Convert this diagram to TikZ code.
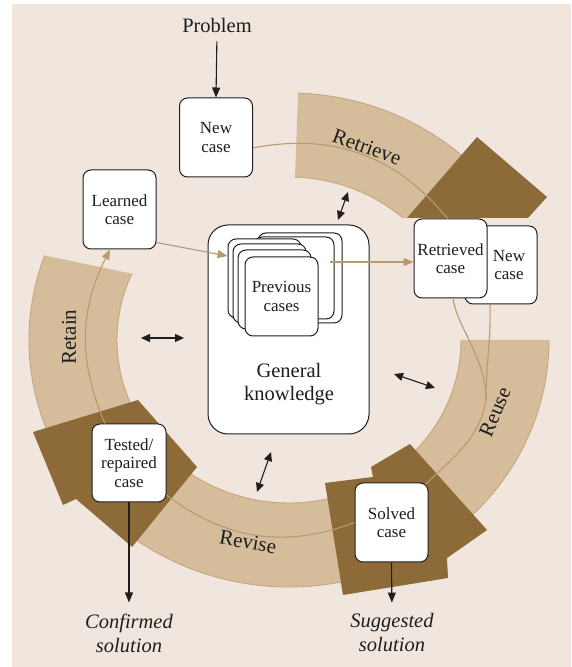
\documentclass[tikz,border=0pt]{standalone}
\usepackage{fontspec}
\setmainfont{Liberation Serif}
\usetikzlibrary{arrows.meta}

\definecolor{paper}{HTML}{F1E6DD}
\definecolor{bandfill}{HTML}{D5BC9B}
\definecolor{bandline}{HTML}{C6A67C}
\definecolor{darkbrown}{HTML}{8D6B38}
\definecolor{flowline}{HTML}{B99A6E}
\definecolor{ink}{HTML}{1E1E1E}

\tikzset{
  casebox/.style={draw=ink, line width=1pt, fill=white, rounded corners=8pt,
    minimum width=73pt, minimum height=79pt, inner sep=0pt, align=center,
    font=\fontsize{17}{18.5}\selectfont, text=ink},
  boxtext/.style={inner sep=0pt, align=center, font=\fontsize{17}{18.5}\selectfont, text=ink},
  card/.style={draw=ink, line width=1pt, fill=white, rounded corners=8pt,
    minimum width=73pt, minimum height=79pt, inner sep=0pt},
  bigtext/.style={font=\fontsize{20.5}{23}\selectfont, text=ink, align=center, inner sep=0pt},
  outtext/.style={font=\fontsize{20.5}{24}\selectfont\itshape, text=ink, align=center, inner sep=0pt},
  steplabel/.style={font=\fontsize{21}{21}\selectfont, text=ink, inner sep=0pt},
  flow/.style={draw=flowline, line width=1.1pt},
  flowarrow/.style={flow, -{Triangle[length=10pt,width=8pt]}},
  blackarrow/.style={draw=ink, line width=1.1pt, -{Triangle[length=10pt,width=8pt]}},
  twoway/.style={draw=ink, line width=1.1pt,
    {Triangle[length=9pt,width=8pt]}-{Triangle[length=9pt,width=8pt]}},
  bandedge/.style={draw=bandline, line width=0.9pt},
}

\begin{document}
\begin{tikzpicture}[x=1pt, y=1pt]
\useasboundingbox (0,0) rectangle (571,667);
\fill[paper] (12,0) rectangle (571,663);

% ---- the four bands of the cycle (ellipse centred at 289,327)
\begin{scope}[shift={(289,327)}]
  % Retrieve
  \begin{scope}
    \clip (-300,122) rectangle (300,340);
    \fill[bandfill] (88:260 and 247) arc[start angle=88, end angle=40, x radius=260, y radius=247]
      -- (40:172 and 163) arc[start angle=40, end angle=88, x radius=172, y radius=163] -- cycle;
    \draw[bandedge] (88:260 and 247) arc[start angle=88, end angle=40, x radius=260, y radius=247];
    \draw[bandedge] (88:172 and 163) arc[start angle=88, end angle=40, x radius=172, y radius=163];
  \end{scope}
  % Reuse
  \fill[bandfill] (0:260 and 247) arc[start angle=0, end angle=-50, x radius=260, y radius=247]
    -- (-50:172 and 163) arc[start angle=-50, end angle=0, x radius=172, y radius=163] -- cycle;
  \draw[bandedge] (0:260 and 247) arc[start angle=0, end angle=-50, x radius=260, y radius=247];
  \draw[bandedge] (0:172 and 163) arc[start angle=0, end angle=-50, x radius=172, y radius=163];
  % Revise
  \fill[bandfill] (-75:260 and 247) arc[start angle=-75, end angle=-138, x radius=260, y radius=247]
    -- (-138:172 and 163) arc[start angle=-138, end angle=-75, x radius=172, y radius=163] -- cycle;
  \draw[bandedge] (-75:260 and 247) arc[start angle=-75, end angle=-138, x radius=260, y radius=247];
  \draw[bandedge] (-75:172 and 163) arc[start angle=-75, end angle=-138, x radius=172, y radius=163];
  % Retain
  \fill[bandfill] (160:260 and 247) arc[start angle=160, end angle=205, x radius=260, y radius=247]
    -- (205:172 and 163) arc[start angle=205, end angle=156, x radius=172, y radius=163] -- cycle;
  \draw[bandedge] (160:260 and 247) arc[start angle=160, end angle=205, x radius=260, y radius=247];
  \draw[bandedge] (156:172 and 163) arc[start angle=156, end angle=205, x radius=172, y radius=163];
\end{scope}

% ---- dark arrow heads at the end of each band
\fill[darkbrown] (407,449) -- (477,530) -- (547,470) -- (528,449) -- cycle;
\fill[darkbrown] (410,223) -- (487,137) -- (447,109) -- (448,89) -- (343,72)
  -- (325,184) -- (373,190) -- (371,200) -- cycle;
\fill[darkbrown] (33,235) -- (138,267) -- (197,200) -- (132,120) -- (76,168) -- (63,162) -- cycle;

% ---- band labels, turned with the ring
\node[steplabel, rotate=-20] (lblretrieve) at (367,520) {Retrieve};
\node[steplabel, rotate=67] (lblreuse) at (495,255) {Reuse};
\node[steplabel, rotate=-10] (lblrevise) at (248,125) {Revise};
\node[steplabel, rotate=90] (lblretain) at (69,330) {Retain};

% ---- knowledge base with the stack of previous cases
\node[draw=ink, line width=1pt, fill=white, rounded corners=20pt,
  minimum width=161pt, minimum height=209pt] (gk) at (288.5,337.5) {};
\node[card, minimum width=84pt, minimum height=90pt] (backA) at (300,389) {};
\node[card, minimum width=80pt, minimum height=82pt] (backB) at (294,389) {};
\node[card] (cardA) at (264.5,388.5) {};
\node[card] (cardB) at (269.5,383.5) {};
\node[card] (cardC) at (274.5,377.5) {};
\node[card, align=center, font=\fontsize{17}{18.5}\selectfont, text=ink] (prev) at (281.5,370.5) {Previous\\cases};
\node[bigtext] (gktext) at (289,283.2) {General\\knowledge};

% ---- case boxes
\node[casebox] (newcase) at (216,529.5) {New\\case};
\node[casebox] (learned) at (119.5,457.5) {Learned\\case};
\node[casebox, minimum width=72pt, minimum height=78pt] (newcaseb) at (501,402) {};
\node[boxtext] (newcasebtext) at (509,402) {New\\case};
\node[casebox] (retrieved) at (450.5,408.5) {Retrieved\\case};
\node[casebox] (solved) at (391.5,144.5) {Solved\\case};
\node[casebox, minimum width=74pt, minimum height=78pt] (tested) at (129,204) {Tested/\\repaired\\case};

% ---- inputs and outputs
\node[bigtext] (problem) at (217,642) {Problem};
\node[outtext] (confirmed) at (129,34) {Confirmed\\solution};
\node[outtext] (suggested) at (392,34) {Suggested\\solution};

% ---- flow of the cycle
\coordinate (merge) at (486,267);
\draw[flow] ([yshift=-10.5]newcase.east) to[bend left=31] ([xshift=-3]retrieved.north);
\draw[flow] ([xshift=2.5]retrieved.south) .. controls +(4,-29) and +(0,43) .. (merge);
\draw[flow] ([xshift=-11]newcaseb.south) .. controls +(1,-40) and +(0,40) .. (merge);
\draw[flow] (merge) to[out=-100, in=45] ([xshift=-3,yshift=-2]solved.north east);
\draw[flow] (solved.west) to[bend left=29] ([yshift=-32]tested.east);
\draw[flowarrow] ([xshift=-24]tested.north) to[bend left=25] ([xshift=-9.5]learned.south);
\draw[flowarrow] ([yshift=-33]learned.east) -- ([yshift=22.5]cardA.west);
\draw[flowarrow] ([xshift=30,yshift=16]backA.center) -- ([yshift=-3.5]retrieved.west);

% ---- problem in, solutions out
\draw[blackarrow, shorten <=9pt] (problem.south) -- (newcase.north);
\draw[blackarrow, shorten >=11pt] (tested.south) -- (confirmed.north);
\draw[blackarrow, shorten >=11pt] (solved.south) -- (suggested.north);

% ---- exchanges with general knowledge
\coordinate (ra1) at (348,475); \coordinate (ra2) at (338,447);
\coordinate (la1) at (141,329); \coordinate (la2) at (184,329);
\coordinate (ua1) at (394,293); \coordinate (ua2) at (435,279);
\coordinate (da1) at (271,215); \coordinate (da2) at (257,175);
\draw[twoway] (ra1) -- (ra2);
\draw[twoway] (la1) -- (la2);
\draw[twoway] (ua1) -- (ua2);
\draw[twoway] (da1) -- (da2);
\end{tikzpicture}
\end{document}
